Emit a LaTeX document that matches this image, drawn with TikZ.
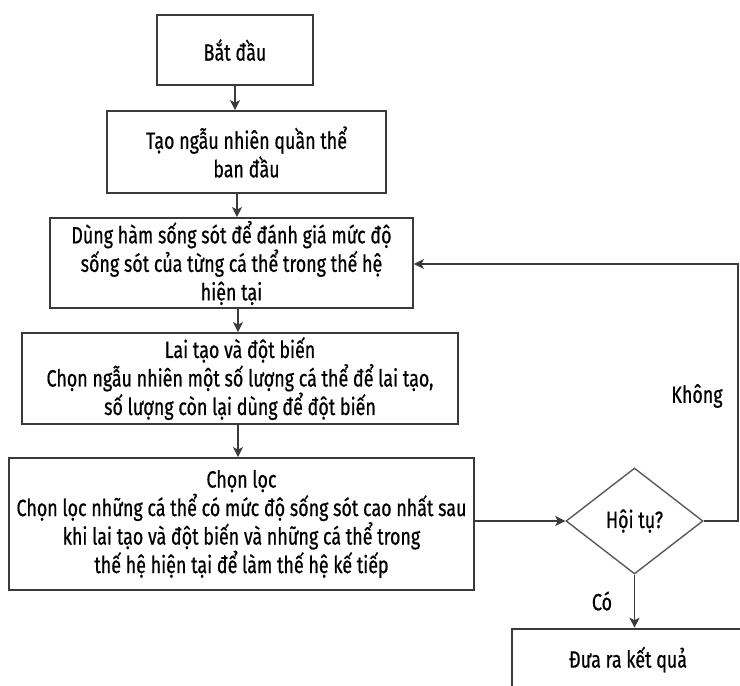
\documentclass[tikz,border=0pt]{standalone}
\usepackage{fontspec}
\setmainfont{Fira Sans}[FakeStretch=0.76,FakeBold=0.6]
\usetikzlibrary{arrows.meta,positioning,shapes.geometric}
\definecolor{khung}{HTML}{3A3A3A}
\definecolor{thoi}{HTML}{5A5A5A}
\begin{document}
\begin{tikzpicture}[x=1pt,y=-1pt,
	font=\fontsize{23.5}{28.5}\selectfont,
	hop/.style={draw=khung,line width=1.8pt,align=center,inner sep=0pt},
	quyet/.style={diamond,draw=thoi,line width=1.4pt,inner sep=0pt,minimum width=137pt,minimum height=106pt},
	mui/.style={-{Stealth[length=10pt,width=10pt,inset=2.5pt]},draw=khung,line width=1.8pt}]

	\useasboundingbox (0,0) rectangle (740,686);
	\clip (0,0) rectangle (740,686);

	\node[hop,minimum width=156pt,minimum height=70pt] (batdau) at (235,50) {Bắt đầu};
	\node[hop,minimum width=279pt,minimum height=82pt] (taoqt) at (246.5,152) {Tạo ngẫu nhiên quần thể\\ban đầu};
	\node[hop,minimum width=363pt,minimum height=90pt] (danhgia) at (231.5,263) {Dùng hàm sống sót để đánh giá mức độ\\sống sót của từng cá thể trong thế hệ\\hiện tại};
	\node[hop,minimum width=436pt,minimum height=91pt] (laitao) at (240,378.5) {Lai tạo và đột biến\\Chọn ngẫu nhiên một số lượng cá thể để lai tạo,\\số lượng còn lại dùng để đột biến};
	\node[hop,minimum width=465pt,minimum height=132pt] (chonloc) at (241.5,524) {Chọn lọc\\Chọn lọc những cá thể có mức độ sống sót cao nhất sau\\khi lai tạo và đột biến và những cá thể trong\\thế hệ hiện tại để làm thế hệ kế tiếp};
	\node[quyet] (hoitu) at (634.5,521) {Hội tụ?};
	\node[hop,minimum width=232pt,minimum height=62pt] (ketqua) [below=53pt of hoitu.south, anchor=north, xshift=-6.5pt] {Đưa ra kết quả};

	\coordinate (truc) at (237,0);
	\coordinate (goc) at (738,264);

	\draw[mui] (batdau.south -| batdau) -- (taoqt.north -| batdau);
	\draw[mui] (taoqt.south -| truc) -- (danhgia.north -| truc);
	\draw[mui] ([xshift=1pt]danhgia.south -| truc) -- ([xshift=1pt]laitao.north -| truc);
	\draw[mui] ([xshift=1pt]laitao.south -| truc) -- ([xshift=1pt]chonloc.north -| truc);
	\draw[mui] (chonloc.east |- hoitu) -- (hoitu.west);
	\draw[mui] (hoitu.east) -| (goc) -- (danhgia.east |- goc);
	\draw[mui] (hoitu.south) -- (hoitu.south |- ketqua.north);

	\node (khong) at (697,396) {Không};
	\node (co) at (602,601) {Có};

\end{tikzpicture}
\end{document}
